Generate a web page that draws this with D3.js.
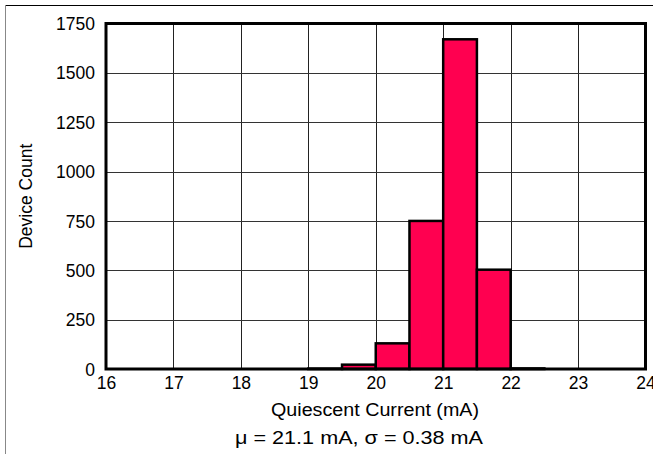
<!DOCTYPE html>
<html><head><meta charset="utf-8">
<script src="https://cdn.jsdelivr.net/npm/d3@7"></script>
<style>body{margin:0;background:#fff}svg{display:block;font-family:"Liberation Sans",Arial,sans-serif}</style>
</head><body>
<svg id="c" width="653" height="454"></svg>
<script>
const binStarts = [16,16.5,17,17.5,18,18.5,19,19.5,20,20.5,21,21.5,22,22.5,23,23.5];
const counts    = [0,0,0,0,0,0,2,22,130,750,1670,503,3,0,0,0];
const binWidth = 0.5;
const xTicks = [16,17,18,19,20,21,22,23,24];
const yTicks = [0,250,500,750,1000,1250,1500,1750];
const xTitle = "Quiescent Current (mA)";
const yTitle = "Device Count";
const note = "μ = 21.1 mA, σ = 0.38 mA";

const svg = d3.select("#c");
const L=106, R=645.5, T=23.5, B=369;
const x = d3.scaleLinear().domain([16,24]).range([L,R]);
const y = d3.scaleLinear().domain([0,1750]).range([B,T]);

// outer frame
svg.append("line").attr("x1",5).attr("x2",653).attr("y1",5.5).attr("y2",5.5).attr("stroke","#000").attr("stroke-width",1);
svg.append("line").attr("x1",5.5).attr("x2",5.5).attr("y1",5).attr("y2",454).attr("stroke","#888").attr("stroke-width",1);

// grid
const g = svg.append("g");
g.selectAll(".vg").data(xTicks).join("line")
  .attr("x1",d=>Math.round(x(d))+0.5).attr("x2",d=>Math.round(x(d))+0.5)
  .attr("y1",T).attr("y2",B).attr("stroke","#222").attr("stroke-width",1);
g.selectAll(".hg").data(yTicks).join("line")
  .attr("y1",d=>Math.round(y(d))+0.5).attr("y2",d=>Math.round(y(d))+0.5)
  .attr("x1",L).attr("x2",R).attr("stroke","#333").attr("stroke-width",1);

// bars
svg.append("g").selectAll("rect").data(binStarts.map((s,i)=>({s,c:counts[i]}))).join("rect")
  .attr("x",d=>x(d.s)).attr("width",d=>x(d.s+binWidth)-x(d.s))
  .attr("y",d=>y(d.c)).attr("height",d=>y(0)-y(d.c))
  .attr("fill","#ff0050").attr("stroke","#000").attr("stroke-width",2.5);

// border
svg.append("rect").attr("x",L).attr("y",T).attr("width",R-L).attr("height",B-T)
  .attr("fill","none").attr("stroke","#000").attr("stroke-width",3);

// axes labels
const xa = svg.append("g").attr("transform",`translate(0,${B})`)
  .call(d3.axisBottom(x).tickValues(xTicks).tickSize(0).tickPadding(0).tickFormat(d3.format("d")));
xa.select(".domain").remove();
xa.selectAll("text").attr("dy",null).attr("y",20).attr("font-size",17.5).attr("fill","#000").attr("font-family","Liberation Sans, Arial, sans-serif");

const ya = svg.append("g").attr("transform",`translate(${L},0)`)
  .call(d3.axisLeft(y).tickValues(yTicks).tickSize(0).tickPadding(11).tickFormat(d3.format("d")));
ya.select(".domain").remove();
ya.selectAll("text").attr("dy","0.35em").attr("font-size",17.5).attr("fill","#000").attr("font-family","Liberation Sans, Arial, sans-serif");

svg.append("text").attr("x",375).attr("y",416).attr("text-anchor","middle")
  .attr("font-size",18).attr("textLength",208).attr("lengthAdjust","spacingAndGlyphs").text(xTitle);
svg.append("text").attr("transform",`translate(32,${(T+B)/2}) rotate(-90)`).attr("text-anchor","middle")
  .attr("font-size",17.5).text(yTitle);
svg.append("text").attr("x",359).attr("y",444).attr("text-anchor","middle")
  .attr("font-size",19).attr("textLength",248).attr("lengthAdjust","spacingAndGlyphs").text(note);
</script>
</body></html>
